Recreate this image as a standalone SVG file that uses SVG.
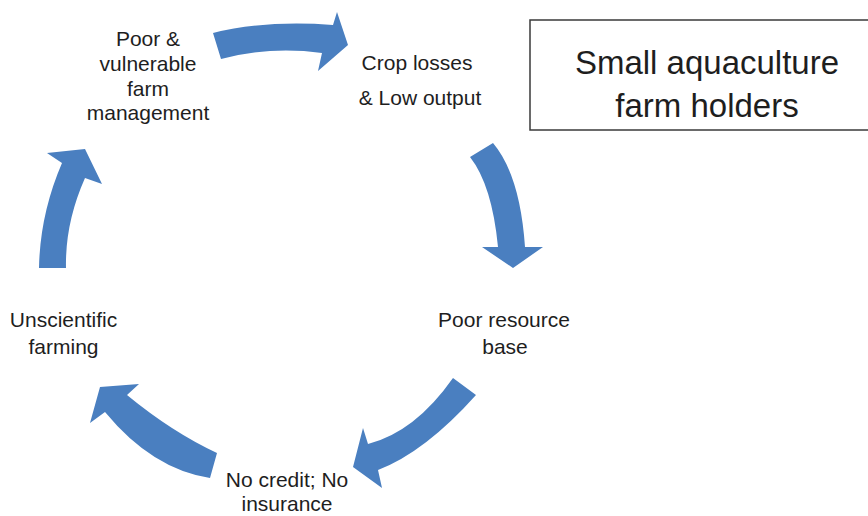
<svg xmlns="http://www.w3.org/2000/svg" width="868" height="516" viewBox="0 0 868 516">
<style>
.arr{fill:#4a7fc0;stroke:none}
.t{font-family:"Liberation Sans",Arial,sans-serif;font-size:21px;fill:#1e1e1e;text-anchor:middle}
.big{font-size:33px}
</style>
<rect width="868" height="516" fill="#ffffff"/>
<g id="connectors">
<path class="arr" d="M213,33 Q265,20 333,25 L337,12 L348,45 L318,71 L322,53 Q270,46 221,59 Z"/>
<path class="arr" d="M470,157 L493,143 Q520,175 525,247 L543,247 L513,268 L482,247 L498,247 Q492,185 470,157 Z"/>
<path class="arr" d="M453,378 L476,395 Q425,452 378,470 L382,488 L353,467 L363,428 L368,444 Q415,432 453,378 Z"/>
<path class="arr" d="M217,453 L210,478 Q152,469 105,412 L90,423 L100,387 L139,384 L127,395 Q172,432 217,453 Z"/>
<path class="arr" d="M39,268 Q40,214 62,163 L47,153 L85,149 L102,184 L85,178 Q65,223 66,268 Z"/>
</g>
<g id="node-poor-management">
<text class="t" x="148" y="46">Poor &amp;</text>
<text class="t" x="148" y="71">vulnerable</text>
<text class="t" x="148" y="96">farm</text>
<text class="t" x="148" y="120">management</text>
</g>
<g id="node-crop-losses">
<text class="t" x="417" y="70">Crop losses</text>
<text class="t" x="420" y="105">&amp; Low output</text>
</g>
<g id="node-poor-resource">
<text class="t" x="504" y="327">Poor resource</text>
<text class="t" x="505" y="354">base</text>
</g>
<g id="node-no-credit">
<text class="t" x="287" y="487">No credit; No</text>
<text class="t" x="287" y="511">insurance</text>
</g>
<g id="node-unscientific">
<text class="t" x="63.5" y="327">Unscientific</text>
<text class="t" x="63.5" y="354">farming</text>
</g>
<g id="node-title">
<rect x="530" y="20" width="345" height="110" fill="#ffffff" stroke="#3a3a3a" stroke-width="1.5"/>
<text class="t big" x="707" y="74">Small aquaculture</text>
<text class="t big" x="707" y="117">farm holders</text>
</g>
</svg>
